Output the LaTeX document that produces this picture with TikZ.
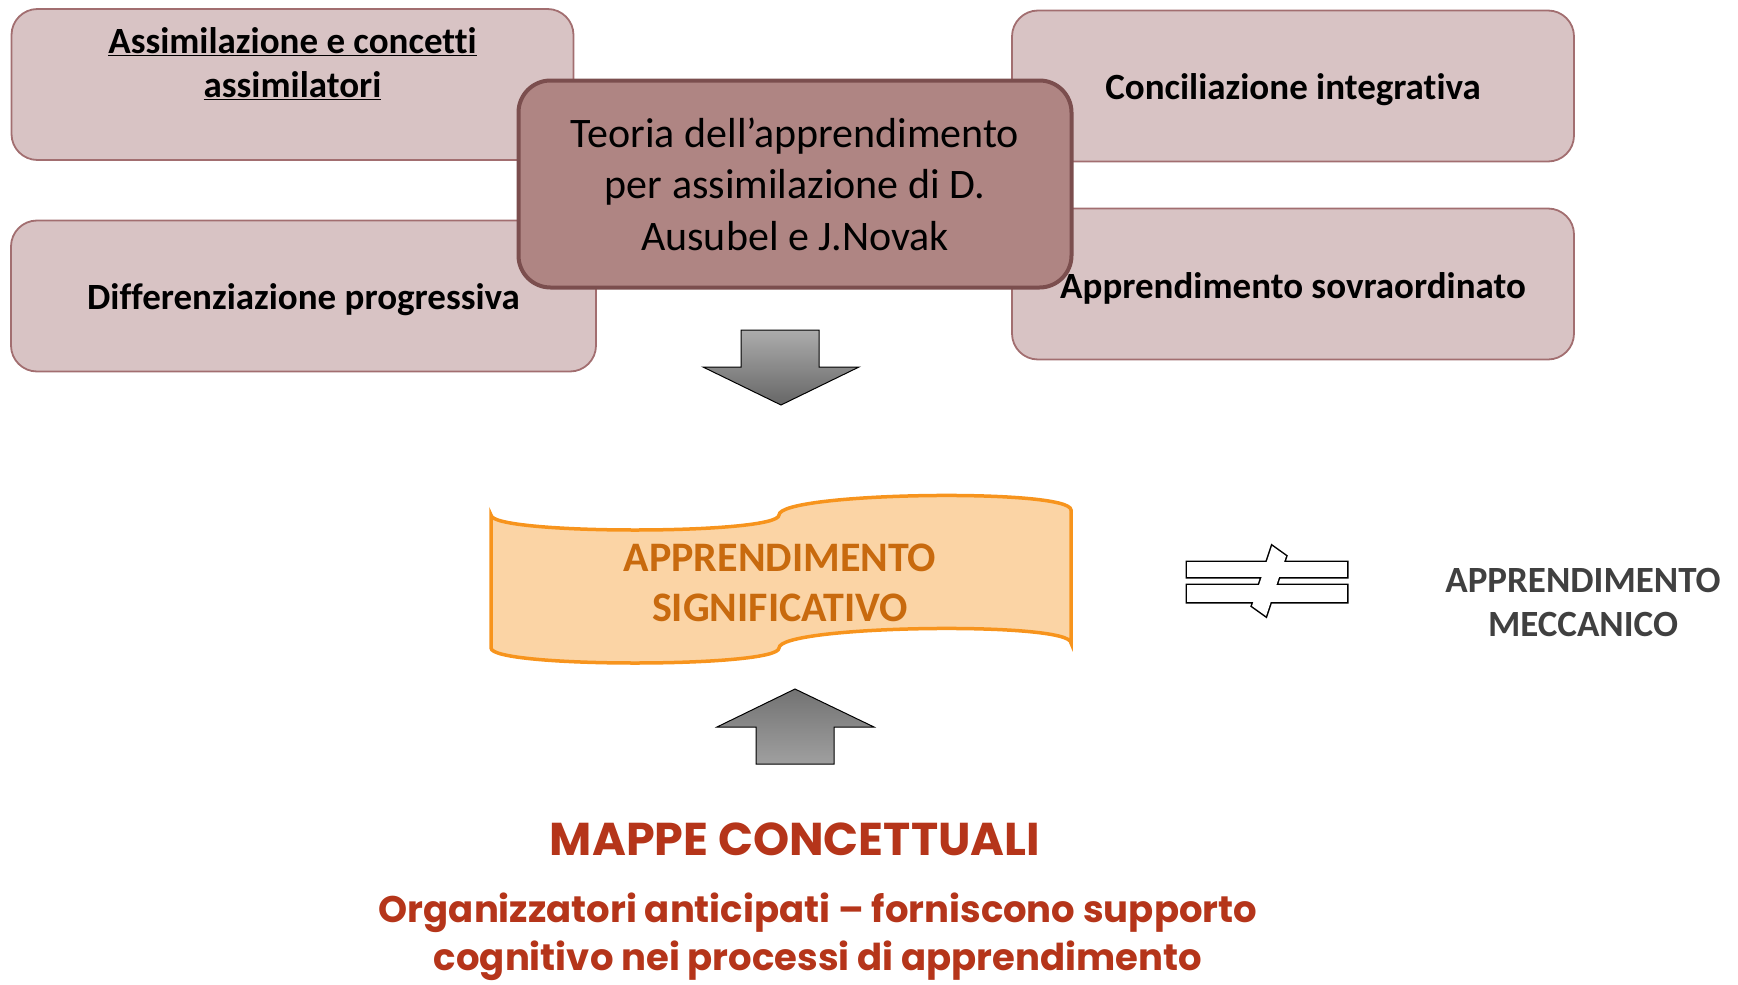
\documentclass[tikz,border=0pt]{standalone}
\usepackage{fontspec}
\setmainfont{Carlito}[Ligatures=NoCommon]
\newfontfamily\mapfont{Poppins}
\usetikzlibrary{positioning}
\definecolor{pinkfill}{HTML}{D8C3C4}
\definecolor{pinkline}{HTML}{A26E70}
\definecolor{theofill}{HTML}{AF8583}
\definecolor{theoline}{HTML}{7B4E4E}
\definecolor{wavefill}{HTML}{FBD4A5}
\definecolor{waveline}{HTML}{F7941D}
\definecolor{wavetext}{HTML}{C86A0E}
\definecolor{mectext}{HTML}{404040}
\definecolor{maptext}{HTML}{B5351A}
\tikzset{sidebox/.style={rectangle,rounded corners=26pt,draw=pinkline,line width=1.8pt,fill=pinkfill,
           minimum width=562pt,minimum height=151pt},
         boxtext/.style={font=\fontsize{37}{44}\selectfont\bfseries,align=center,yshift=-4pt},
         theory/.style={rectangle,rounded corners=32pt,draw=theoline,line width=4pt,fill=theofill,
           minimum width=553pt,minimum height=207pt,font=\fontsize{42}{51.5}\selectfont,align=center},
         bigarrow/.style={draw=black,line width=1pt,top color=#1,bottom color=gray!80!black},
         capstext/.style={font=\fontsize{#1}{50}\selectfont\bfseries,align=center},
         maptitle/.style={font=\mapfont\bfseries\fontsize{#1}{48}\selectfont,text=maptext,align=center}
	 }

\begin{document}
\begin{tikzpicture}[x=1pt,y=-1pt]% mappe concettuali
        \useasboundingbox (0,0) rectangle (1738,985);
        \node[sidebox] (assim) at (292.5,84.5) {};
        \node[boxtext] (assimtxt) at (292.5,60) {\underline{Assimilazione e concetti}\\\underline{assimilatori}};
        \node[sidebox,minimum width=585pt] (diff) at (303.5,296) {};
        \node[boxtext] at (diff) {Differenziazione progressiva};
        \node[sidebox] (concil) at (1293,86) {};
        \node[boxtext] at (concil) {Conciliazione integrativa};
        \node[sidebox] (sovra) at (1293,284) {};
        \node[boxtext] at (sovra) {Apprendimento sovraordinato};
        \node[theory] (teoria) at (795,184) {Teoria dell’apprendimento\\per assimilazione di D.\\Ausubel e J.Novak};
        % frecce
        \shade[bigarrow=gray!65] (741,330) -- (819,330) -- (819,367) -- (859,367) -- (781,405)
            -- (703,367) -- (741,367) -- cycle;
        \shade[bigarrow=gray!90!black,bottom color=gray!75] (756,764) -- (834,764) -- (834,727) -- (874,727)
            -- (795,689) -- (717,727) -- (756,727) -- cycle;
        % banner
        \draw[draw=waveline,fill=wavefill,line width=3.5pt] (491,515) .. controls (491,535) and (779,535) .. (779,515)
            .. controls (779,492) and (1071,488) .. (1071,510) -- (1071,643)
            .. controls (1071,621) and (779,625) .. (779,648)
            .. controls (779,668) and (491,668) .. (491,648) -- cycle;
        \node[capstext=42,text=wavetext] (signif) at (780,583) {APPRENDIMENTO\\SIGNIFICATIVO};
        % diverso
        \begin{scope}[line width=3pt]
          \draw (1187,562) rectangle (1347,577) (1187,585) rectangle (1347,602)
            (1272,546) -- (1286,556) -- (1266,616) -- (1252,606) -- cycle;
          \fill[white] (1187,562) rectangle (1347,577);
          \fill[white] (1187,585) rectangle (1347,602);
          \fill[white] (1272,546) -- (1286,556) -- (1266,616) -- (1252,606) -- cycle;
        \end{scope}
        \node[capstext=37,text=mectext,font=\fontsize{37}{44}\selectfont\bfseries] (mecc) at (1583,602) {APPRENDIMENTO\\MECCANICO};
        % mappe
        \node[maptitle=46] (mappe) at (795,839) {MAPPE CONCETTUALI};
        \node[maptitle=37] (organ) at (818,937) {Organizzatori anticipati – forniscono supporto\\cognitivo nei processi di apprendimento};
     \end{tikzpicture}
\end{document}
